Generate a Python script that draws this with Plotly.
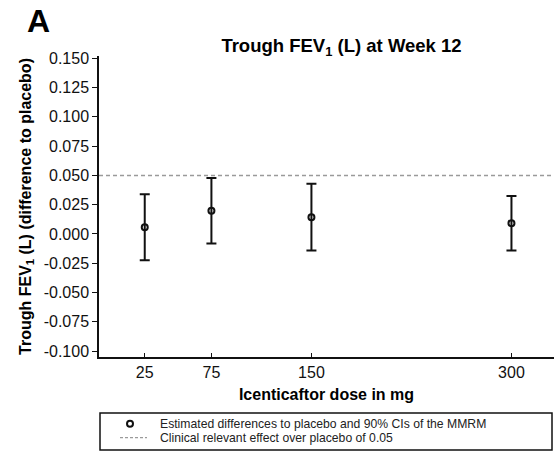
import plotly.graph_objects as go

# Dose groups (mg) and MMRM estimates of the difference to placebo (L)
doses = [25, 75, 150, 300]
estimates = [0.0057, 0.0198, 0.0143, 0.0092]
ci_lower = [-0.0225, -0.0082, -0.0142, -0.0142]
ci_upper = [0.0340, 0.0477, 0.0428, 0.0325]

clinical_effect = 0.05

y_tick_values = [0.150, 0.125, 0.100, 0.075, 0.050, 0.025, 0.000, -0.025, -0.050, -0.075, -0.100]
y_tick_labels = ["0.150", "0.125", "0.100", "0.075", "0.050", "0.025", "0.000",
                 "-0.025", "-0.050", "-0.075", "-0.100"]
x_tick_values = [25, 75, 150, 300]
x_tick_labels = ["25", "75", "150", "300"]

legend_labels = [
    "Estimated differences to placebo and 90% CIs of the MMRM",
    "Clinical relevant effect over placebo of 0.05",
]

W, H = 554, 452
ML, MR, MT, MB = 99, 0, 56, 95
PW, PH = W - ML - MR, H - MT - MB
FONT = "Liberation Sans, Arial, Helvetica, sans-serif"
INK = "#111111"


def px(x):
    """Pixel column -> paper x."""
    return (x - ML) / PW


def py(y):
    """Pixel row -> paper y."""
    return (H - MB - y) / PH


err_plus = [u - e for u, e in zip(ci_upper, estimates)]
err_minus = [e - l for e, l in zip(estimates, ci_lower)]

fig = go.Figure()
fig.add_trace(go.Scatter(
    x=doses, y=estimates, mode="markers",
    marker=dict(symbol="circle-open", size=6, color=INK, line=dict(width=2, color=INK)),
    error_y=dict(type="data", symmetric=False, array=err_plus, arrayminus=err_minus,
                 color=INK, thickness=2, width=5),
    showlegend=False,
))

# Reference line for the clinically relevant effect
fig.add_shape(type="line", xref="paper", x0=0, x1=1, yref="y",
              y0=clinical_effect, y1=clinical_effect,
              line=dict(color="#9a9a9a", width=1.5, dash="4px,3px"), layer="below")

# Legend box drawn below the x-axis title
fig.add_shape(type="rect", xref="paper", yref="paper",
              x0=px(100), x1=px(552), y0=py(450), y1=py(413),
              line=dict(color=INK, width=1.5))
fig.add_shape(type="circle", xref="paper", yref="paper",
              x0=px(127), x1=px(133), y0=py(426.7), y1=py(420.7),
              line=dict(color=INK, width=2))
fig.add_shape(type="line", xref="paper", yref="paper",
              x0=px(120), x1=px(147), y0=py(437.7), y1=py(437.7),
              line=dict(color="#9a9a9a", width=1.2, dash="3px,2px"))
for text, row_y in zip(legend_labels, [423.7, 437.7]):
    fig.add_annotation(text=text, xref="paper", yref="paper", x=px(158), y=py(row_y),
                       xanchor="left", yanchor="middle", showarrow=False,
                       font=dict(family=FONT, size=12.2, color="#222222"))

# Panel letter
fig.add_annotation(text="<b>A</b>", xref="paper", yref="paper", x=px(25), y=py(21),
                   xanchor="left", yanchor="middle", showarrow=False,
                   font=dict(family=FONT, size=32, color="#000000"))

fig.update_layout(
    width=W, height=H,
    margin=dict(l=ML, r=MR, t=MT, b=MB, pad=0),
    paper_bgcolor="white", plot_bgcolor="white",
    font=dict(family=FONT, color=INK),
    title=dict(text="<b>Trough FEV<sub>1</sub> (L) at Week 12</b>",
               x=px(341.5), xref="paper", xanchor="center",
               y=1 - 45.5 / H, yref="container", yanchor="middle",
               font=dict(family=FONT, size=18.5, color="#000000")),
    xaxis=dict(
        range=[-9.3, 331.9],
        tickmode="array", tickvals=x_tick_values, ticktext=x_tick_labels,
        ticks="inside", ticklen=4, tickwidth=1, tickcolor=INK,
        showline=True, linecolor=INK, linewidth=1.5,
        showgrid=False, zeroline=False,
        tickfont=dict(family=FONT, size=16, color=INK),
        title=dict(text="<b>Icenticaftor dose in mg</b>", standoff=9,
                   font=dict(family=FONT, size=16, color="#000000")),
    ),
    yaxis=dict(
        range=[-0.105, 0.1519],
        tickmode="array", tickvals=y_tick_values, ticktext=y_tick_labels,
        ticks="outside", ticklen=5, tickwidth=1.2, tickcolor=INK,
        showline=True, linecolor=INK, linewidth=1.5,
        showgrid=False, zeroline=False,
        tickfont=dict(family=FONT, size=16, color=INK),
        title=dict(text="<b>Trough FEV<sub>1</sub> (L) (difference to placebo)</b>", standoff=8,
                   font=dict(family=FONT, size=16, color="#000000")),
    ),
)

fig.write_html("out.html")
